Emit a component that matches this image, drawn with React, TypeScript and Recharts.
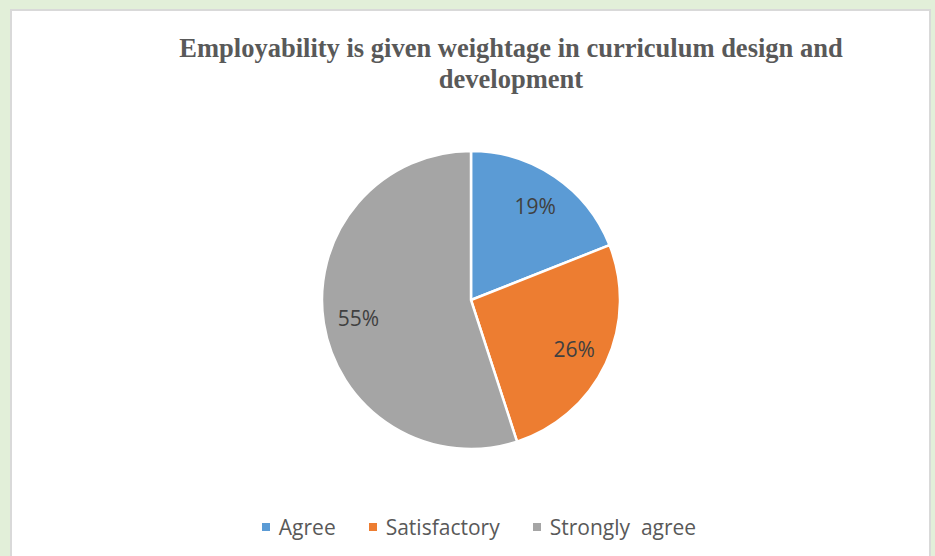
import { PieChart, Pie, Cell, Legend } from 'recharts';

const categories = ['Agree', 'Satisfactory', 'Strongly  agree'];
const shares = [19, 26, 55];
const COLORS = ['#5B9BD5', '#ED7D31', '#A5A5A5'];

const data = categories.map((name, i) => ({ name, value: shares[i] }));

const RAD = Math.PI / 180;

const renderLabel = (props: any) => {
  const { cx, cy, midAngle, value } = props;
  const r = 114;
  const x = cx + r * Math.cos(-midAngle * RAD);
  const y = cy + r * Math.sin(-midAngle * RAD);
  return (
    <text
      x={x}
      y={y}
      fill="#404040"
      fontSize={21}
      fontFamily="'Open Sans', 'Noto Sans', sans-serif"
      textAnchor="middle"
      dominantBaseline="central"
    >
      {`${value}%`}
    </text>
  );
};

const renderLegend = () => (
  <div style={{ display: 'flex', justifyContent: 'center', gap: 33, fontFamily: "'Open Sans', 'Noto Sans', sans-serif", fontSize: 21, color: '#595959' }}>
    {categories.map((name, i) => (
      <div key={name} style={{ display: 'flex', alignItems: 'center' }}>
        <span style={{ display: 'inline-block', width: 8, height: 8, background: COLORS[i], marginRight: 9 }} />
        <span style={{ whiteSpace: 'pre' }}>{name}</span>
      </div>
    ))}
  </div>
);

export default function App() {
  return (
    <div style={{ position: 'absolute', left: 0, top: 0, width: 935, height: 556, background: '#E2EFD9', overflow: 'hidden' }}>
      <div
        style={{
          position: 'absolute',
          left: 10,
          top: 9,
          width: 917,
          height: 560,
          background: '#fff',
          border: '2px solid #D9D9D9',
        }}
      />
      <div
        style={{
          position: 'absolute',
          left: 0,
          top: 33,
          width: 1022,
          textAlign: 'center',
          fontFamily: "'Liberation Serif', 'Times New Roman', serif",
          fontWeight: 'bold',
          fontSize: 26.5,
          lineHeight: '31px',
          color: '#595959',
        }}
      >
        Employability is given weightage in curriculum design and
        <br />
        development
      </div>
      <div style={{ position: 'absolute', left: 0, top: 0 }}>
        <PieChart width={935} height={556} margin={{ top: 0, right: 0, bottom: 0, left: 0 }}>
          <Pie
            data={data}
            dataKey="value"
            nameKey="name"
            cx={471}
            cy={300}
            outerRadius={149}
            startAngle={90}
            endAngle={-270}
            stroke="#fff"
            strokeWidth={2.5}
            label={renderLabel}
            labelLine={false}
            isAnimationActive={false}
          >
            {data.map((entry, index) => (
              <Cell key={`cell-${index}`} fill={COLORS[index]} />
            ))}
          </Pie>
          <Legend content={renderLegend} verticalAlign="bottom" wrapperStyle={{ top: 513, bottom: 'auto', left: 0, width: 958 }} />
        </PieChart>
      </div>
    </div>
  );
}
